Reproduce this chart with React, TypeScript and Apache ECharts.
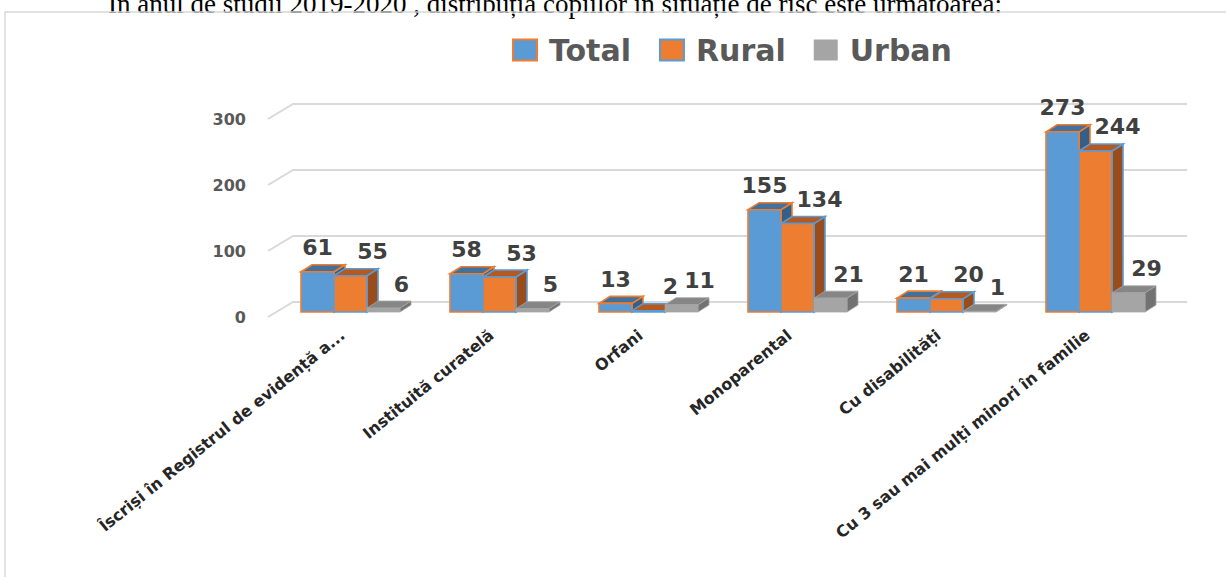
import React, { useEffect, useRef } from "react";
import * as echarts from "echarts";

const titleText = "În anul de studii 2019-2020 , distribuția copiilor în situație de risc este următoarea:";
const seriesNames = ["Total", "Rural", "Urban"];
const categories = [
  "Îscriși în Registrul de evidență a...",
  "Instituită curatelă",
  "Orfani",
  "Monoparental",
  "Cu disabilități",
  "Cu 3 sau mai mulți minori în familie",
];
const totalValues = [61, 58, 13, 155, 21, 273];
const ruralValues = [55, 53, 2, 134, 20, 244];
const urbanValues = [6, 5, 11, 21, 1, 29];
const yTicks = [0, 100, 200, 300];

const FONT = "DejaVu Sans";
const BAR_W = 33;
const OFF_X = 8;
const OFF_Y = -5;
const DEPTH_X = 11;
const DEPTH_Y = 7;
const FLOOR_X = 25;
const FLOOR_Y = 15;

const faces = [
  { front: "#5B9BD5", top: "#41719C", side: "#355F86", stroke: "#ED7D31", labelDx: 0 },
  { front: "#ED7D31", top: "#B4591F", side: "#9A4C1B", stroke: "#5B9BD5", labelDx: 22 },
  { front: "#A5A5A5", top: "#868686", side: "#727272", stroke: "#A5A5A5", labelDx: 18 },
];

function barSeries(name: string, values: number[], idx: number) {
  const f = faces[idx];
  return {
    type: "custom",
    name,
    data: values.map((v, i) => [i, v]),
    encode: { x: 0, y: 1 },
    itemStyle: { color: f.front },
    renderItem: (params: any, api: any) => {
      const ci = api.value(0);
      const v = api.value(1);
      const top = api.coord([ci, v]);
      const base = api.coord([ci, 0]);
      const xl = top[0] - 1.5 * BAR_W + idx * BAR_W + OFF_X;
      const yt = top[1] + OFF_Y;
      const yb = base[1] + OFF_Y;
      const sw = idx === 2 ? 0.8 : 1.6;
      const side = {
        type: "polygon",
        shape: {
          points: [
            [xl + BAR_W, yt],
            [xl + BAR_W + DEPTH_X, yt - DEPTH_Y],
            [xl + BAR_W + DEPTH_X, yb - DEPTH_Y],
            [xl + BAR_W, yb],
          ],
        },
        style: { fill: f.side, stroke: f.stroke, lineWidth: sw },
      };
      const topFace = {
        type: "polygon",
        shape: {
          points: [
            [xl, yt],
            [xl + DEPTH_X, yt - DEPTH_Y],
            [xl + BAR_W + DEPTH_X, yt - DEPTH_Y],
            [xl + BAR_W, yt],
          ],
        },
        style: { fill: f.top, stroke: f.stroke, lineWidth: sw },
      };
      const front = {
        type: "rect",
        shape: { x: xl, y: yt, width: BAR_W, height: Math.max(yb - yt, 0.5) },
        style: { fill: f.front, stroke: f.stroke, lineWidth: sw },
      };
      const label = {
        type: "text",
        x: xl + BAR_W / 2 + f.labelDx,
        y: yt - 24,
        z2: 10,
        style: {
          text: String(v),
          fill: "#404040",
          font: `bold 22px "${FONT}"`,
          align: "center",
          verticalAlign: "middle",
        },
      };
      return { type: "group", children: [side, topFace, front, label] };
    },
  };
}

export default function App() {
  const ref = useRef<HTMLDivElement>(null);
  useEffect(() => {
    if (!ref.current) return;
    const chart = echarts.init(ref.current, undefined, { renderer: "svg" });
    const gridSeries = {
      type: "custom",
      name: "grid3d",
      data: yTicks.map((t) => [0, t]),
      encode: { x: 0, y: 1 },
      silent: true,
      renderItem: (params: any, api: any) => {
        const cs = params.coordSys;
        const y = api.coord([0, api.value(1)])[1];
        return {
          type: "polyline",
          shape: {
            points: [
              [cs.x, y],
              [cs.x + FLOOR_X, y - FLOOR_Y],
              [cs.x + cs.width + FLOOR_X, y - FLOOR_Y],
            ],
          },
          style: { stroke: "#D9D9D9", lineWidth: 2, fill: "none" },
        };
      },
    };
    chart.setOption({
      animation: false,
      backgroundColor: "#ffffff",
      textStyle: { fontFamily: FONT },
      graphic: [
        {
          type: "text",
          x: 555,
          y: 17,
          style: {
            text: titleText,
            font: '27px "Liberation Serif"',
            fill: "#000",
            align: "center",
            verticalAlign: "bottom",
          },
        },
        {
          type: "rect",
          shape: { x: 5, y: 12, width: 1260, height: 620 },
          style: { fill: "none", stroke: "#D9D9D9", lineWidth: 1.5 },
          silent: true,
        },
      ],
      legend: {
        left: 507,
        top: 30,
        icon: "rect",
        itemWidth: 24,
        itemHeight: 21,
        itemGap: 28,
        selectedMode: false,
        textStyle: {
          fontFamily: FONT,
          fontSize: 30,
          fontWeight: "bold",
          color: "#595959",
          padding: [0, 0, 0, 7],
        },
        data: seriesNames.map((n, i) => ({
          name: n,
          itemStyle: { color: faces[i].front, borderColor: faces[i].stroke, borderWidth: i === 2 ? 0 : 2 },
        })),
      },
      grid: { left: 268, right: 64, top: 119, bottom: 260 },
      xAxis: {
        type: "category",
        data: categories,
        axisLine: { show: false },
        axisTick: { show: false },
        axisLabel: {
          interval: 0,
          rotate: 39,
          margin: 16,
          fontFamily: FONT,
          fontSize: 16,
          fontWeight: "bold",
          color: "#262626",
        },
      },
      yAxis: {
        type: "value",
        min: 0,
        max: 300,
        interval: 100,
        axisLine: { show: false },
        axisTick: { show: false },
        splitLine: { show: false },
        axisLabel: {
          margin: 22,
          fontFamily: FONT,
          fontSize: 16,
          fontWeight: "bold",
          color: "#595959",
        },
      },
      series: [
        gridSeries,
        barSeries(seriesNames[0], totalValues, 0),
        barSeries(seriesNames[1], ruralValues, 1),
        barSeries(seriesNames[2], urbanValues, 2),
      ],
    });
    return () => chart.dispose();
  }, []);
  return (
    <div
      style={{ position: "fixed", left: 0, top: 0, width: 1226, height: 577, background: "#fff", overflow: "hidden" }}
    >
      <div ref={ref} style={{ width: 1226, height: 577 }} />
    </div>
  );
}
